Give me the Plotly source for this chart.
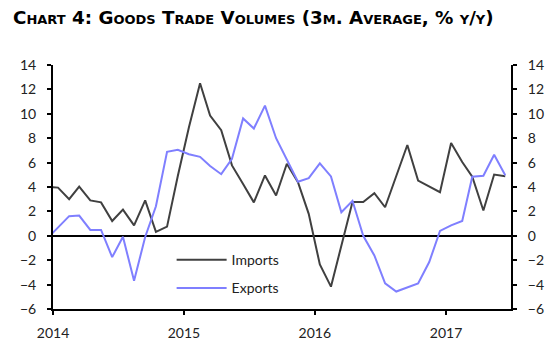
import pandas as pd
import plotly.graph_objects as go

# Monthly observations, Dec 2013 .. Jun 2017 (3m average, % y/y)
months = pd.date_range("2013-12-01", "2017-06-01", freq="MS") + pd.Timedelta(days=14)

imports = [4.0, 3.95, 3.0, 4.03, 2.9, 2.74, 1.21, 2.15, 0.86, 2.9, 0.32, 0.75,
           4.9, 8.9, 12.5, 9.86, 8.65, 5.77, 4.24, 2.74, 4.95, 3.3, 5.91, 4.4,
           1.8, -2.35, -4.17, -0.8, 2.77, 2.77, 3.49, 2.34, 4.9, 7.44, 4.52, 4.03,
           3.57, 7.6, 6.05, 4.84, 2.07, 5.02, 4.89]

exports = [-0.25, 0.68, 1.61, 1.66, 0.48, 0.48, -1.75, -0.08, -3.69, -0.1, 2.42, 6.88,
           7.05, 6.69, 6.47, 5.72, 5.05, 6.31, 9.62, 8.79, 10.67, 8.0, 6.3, 4.43,
           4.73, 5.94, 4.87, 1.93, 2.87, 0.0, -1.61, -3.9, -4.57, -4.25, -3.9, -2.15,
           0.4, 0.86, 1.21, 4.84, 4.92, 6.64, 4.97]

year_ticks = ["2014-01-01", "2015-01-01", "2016-01-01", "2017-01-01"]
year_labels = ["2014", "2015", "2016", "2017"]
y_ticks = list(range(-6, 15, 2))

FONT = "Lato"

fig = go.Figure()
fig.add_trace(go.Scatter(x=months, y=imports, name="Imports", mode="lines",
                         line=dict(color="#404040", width=2), legendgroup="a"))
fig.add_trace(go.Scatter(x=months, y=exports, name="Exports", mode="lines",
                         line=dict(color="#7f7fff", width=2), legendgroup="b"))
# invisible trace to activate right axis
fig.add_trace(go.Scatter(x=months, y=imports, mode="lines", yaxis="y2",
                         line=dict(color="rgba(0,0,0,0)", width=0),
                         showlegend=False, hoverinfo="skip"))

axis_common = dict(showline=True, linecolor="black", linewidth=2,
                   ticks="outside", ticklen=4, tickwidth=2, tickcolor="black",
                   showgrid=False, tickfont=dict(family=FONT, size=14, color="#222"))

fig.update_layout(
    width=556, height=353,
    margin=dict(l=53, r=44, t=65, b=40),
    paper_bgcolor="white", plot_bgcolor="white",
    title=dict(text="<b>Chart 4: Goods Trade Volumes (3m. Average, % y/y)</b>",
               font=dict(family="DejaVu Sans", size=18.3, color="black", variant="small-caps"),
               xref="container", yref="container", x=13/556, xanchor="left",
               y=1 - 18/353, yanchor="middle"),
    xaxis=dict(type="date", range=["2014-01-01", "2017-07-01"],
               tickvals=year_ticks, ticktext=year_labels,
               ticklabelstandoff=6, **axis_common),
    yaxis=dict(range=[-6, 14], tickvals=y_ticks, zeroline=True,
               zerolinecolor="black", zerolinewidth=1.5, ticklabelstandoff=8,
               **axis_common),
    yaxis2=dict(range=[-6, 14], tickvals=y_ticks, overlaying="y", side="right",
                zeroline=False, ticklabelstandoff=8, **axis_common),
    legend=dict(x=0.259, y=0.266, xanchor="left", yanchor="top",
                bgcolor="rgba(0,0,0,0)", traceorder="grouped", tracegroupgap=7,
                itemwidth=50,
                font=dict(family=FONT, size=14, color="#222")),
    showlegend=True,
)

fig.write_html("out.html")
